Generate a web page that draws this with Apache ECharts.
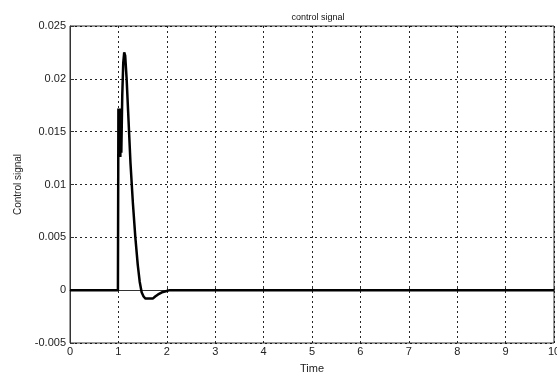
<!DOCTYPE html>
<html><head><meta charset="utf-8">
<script src="https://cdn.jsdelivr.net/npm/echarts@6/dist/echarts.min.js"></script>
<style>html,body{margin:0;padding:0;background:#fff}#c{width:557px;height:373px}</style>
</head><body><div id="c"></div>
<script>
var times  = [0, 0.99, 1.0, 1.01, 1.02, 1.03, 1.04, 1.05, 1.06, 1.08, 1.1, 1.12, 1.14, 1.17, 1.2, 1.25, 1.3, 1.35, 1.4, 1.44, 1.48, 1.52, 1.56, 1.6, 1.63, 1.67, 1.71, 1.76, 1.82, 1.9, 1.98, 2.06, 10];
var values = [0, 0, 0.0172, 0.0172, 0.0128, 0.0172, 0.0126, 0.0172, 0.0130, 0.0185, 0.0215, 0.0225, 0.0222, 0.0200, 0.0170, 0.0120, 0.0082, 0.0050, 0.0024, 0.0008, -0.0002, -0.0006, -0.0008, -0.0007, -0.0008, -0.0009, -0.0008, -0.0006, -0.0004, -0.0002, -0.0001, 0, 0];
var xTicks = ['0','1','2','3','4','5','6','7','8','9','10'];
var yTicks = {'-0.005':'-0.005','0':'0','0.005':'0.005','0.01':'0.01','0.015':'0.015','0.02':'0.02','0.025':'0.025'};
var chart = echarts.init(document.getElementById('c'));
var data = times.map(function(t,i){return [t, values[i]];});
var font = 'Liberation Sans, Arial, sans-serif';
var gridLine = {show:true, lineStyle:{color:'#000', type:[2,3], width:1, opacity:0.85}};
chart.setOption({
  animation:false,
  title:{text:'control signal', left:313, textAlign:'center', top:8, textStyle:{fontSize:9, fontWeight:'normal', color:'#111', fontFamily:font}},
  grid:{left:70, top:26, right:3, bottom:30, show:true, borderColor:'#333', borderWidth:1, containLabel:false, outerBoundsMode:'none'},
  xAxis:{type:'value', min:0, max:10, interval:1,
    name:'Time', nameLocation:'middle', nameGap:20, nameTextStyle:{fontSize:11, color:'#222', fontFamily:font},
    axisLine:{lineStyle:{color:'#333'}}, axisTick:{inside:true, length:4, lineStyle:{color:'#333'}},
    axisLabel:{fontSize:11, color:'#222', margin:3, fontFamily:font, formatter:function(v){return xTicks[Math.round(v)];}},
    splitLine:gridLine},
  yAxis:{type:'value', min:-0.005, max:0.025, interval:0.005,
    name:'Control signal', nameLocation:'middle', nameGap:47, nameTextStyle:{fontSize:10, color:'#222', fontFamily:font},
    axisLine:{show:true, lineStyle:{color:'#333'}}, axisTick:{show:true, inside:true, length:4, lineStyle:{color:'#333'}},
    axisLabel:{fontSize:11, color:'#222', margin:4, fontFamily:font, formatter:function(v){var k=String(Math.round(v*1000)/1000); return yTicks[k]!==undefined?yTicks[k]:k;}},
    splitLine:gridLine},
  series:[{type:'line', data:data, showSymbol:false, lineStyle:{color:'#000', width:2.5}}]
});
</script></body></html>
